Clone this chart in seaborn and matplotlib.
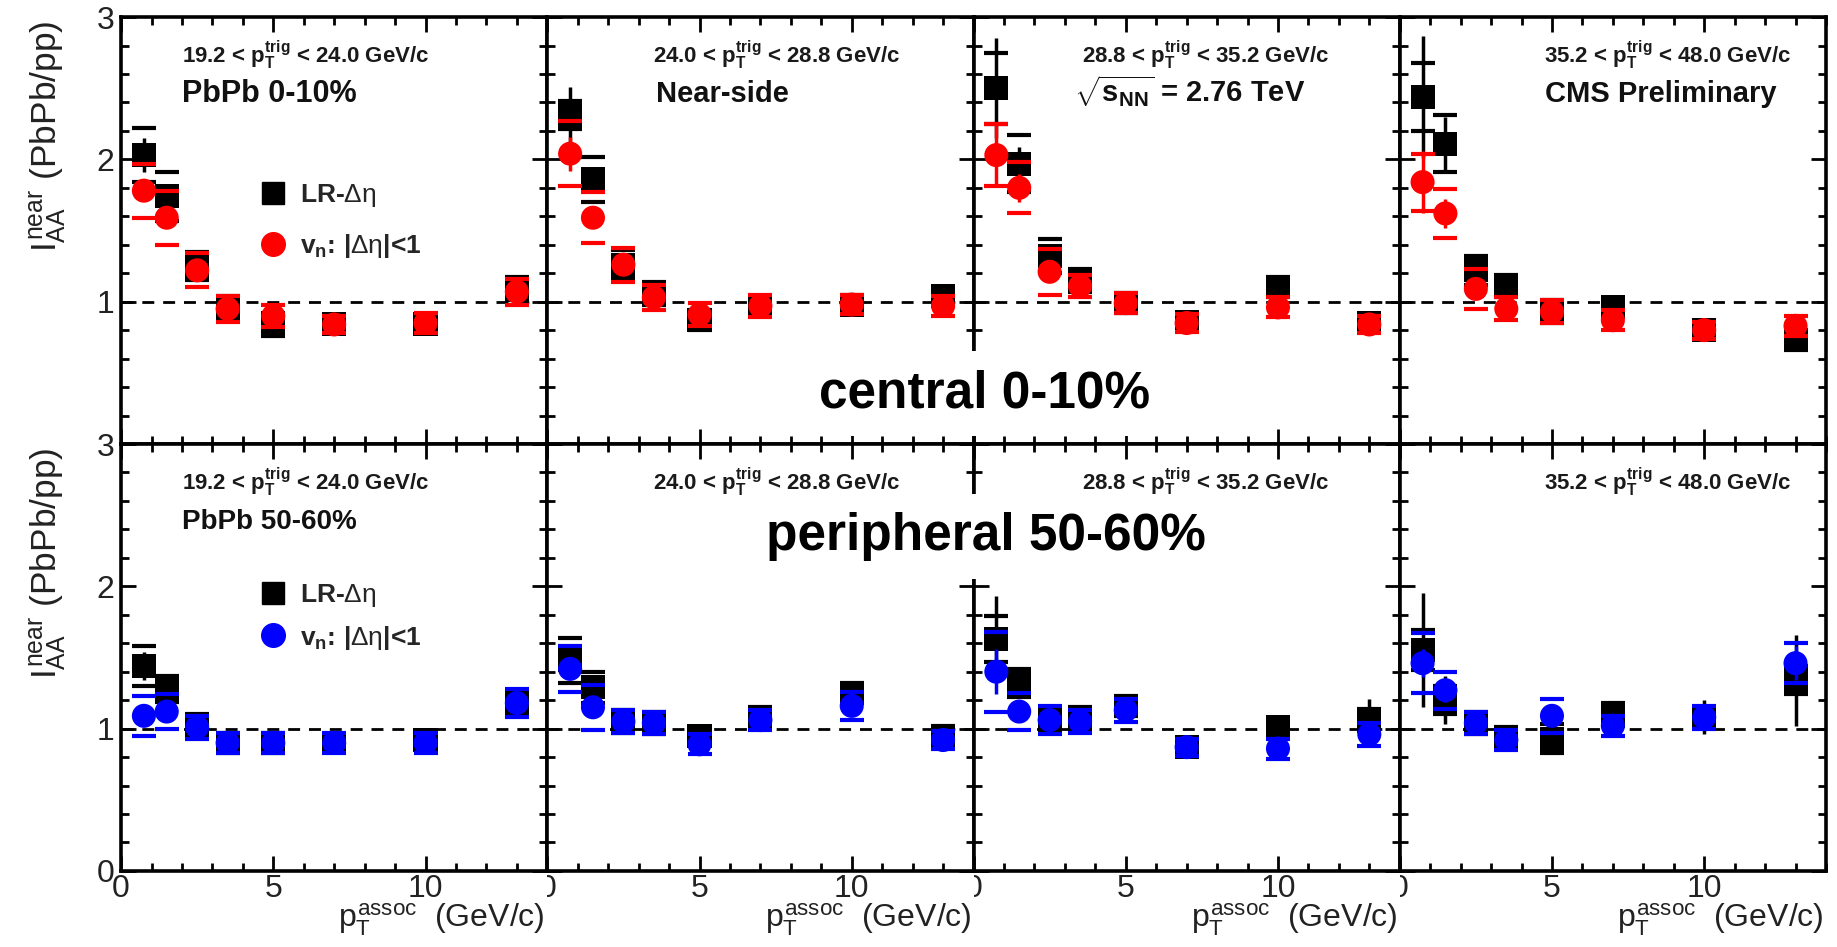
import numpy as np
import seaborn as sns
import matplotlib.pyplot as plt
from matplotlib.lines import Line2D
from matplotlib.ticker import MultipleLocator, FixedLocator
from matplotlib.transforms import Bbox, TransformedBbox

# associated pT bin centres (GeV/c), same for every panel
pt_assoc = [0.75, 1.5, 2.5, 3.5, 5.0, 7.0, 10.0, 13.0]

# trigger pT bin edges for the four columns
trig_lo = ["19.2", "24.0", "28.8", "35.2"]
trig_hi = ["24.0", "28.8", "35.2", "48.0"]

# central 0-10%, LR-deta (black squares)
cen_lr = [[2.03, 1.74, 1.25, 0.96, 0.84, 0.84, 0.84, 1.09],
          [2.31, 1.86, 1.26, 1.06, 0.87, 0.97, 0.98, 1.04],
          [2.50, 1.97, 1.32, 1.15, 0.99, 0.86, 1.10, 0.85],
          [2.44, 2.11, 1.22, 1.11, 0.93, 0.96, 0.80, 0.73]]
cen_lr_stat = [[0.12, 0.05, 0.04, 0.03, 0.03, 0.03, 0.03, 0.04],
               [0.20, 0.08, 0.04, 0.03, 0.03, 0.03, 0.03, 0.04],
               [0.35, 0.12, 0.05, 0.04, 0.04, 0.04, 0.05, 0.04],
               [0.43, 0.19, 0.06, 0.05, 0.05, 0.05, 0.05, 0.07]]
cen_lr_syst = [[0.19, 0.17, 0.10, 0.08, 0.08, 0.06, 0.06, 0.08],
               [0.10, 0.16, 0.10, 0.08, 0.07, 0.07, 0.07, 0.06],
               [0.25, 0.20, 0.12, 0.08, 0.07, 0.06, 0.07, 0.06],
               [0.24, 0.20, 0.10, 0.08, 0.08, 0.06, 0.06, 0.07]]

# central 0-10%, vn subtracted |deta|<1 (red circles)
cen_vn = [[1.78, 1.59, 1.22, 0.95, 0.90, 0.84, 0.85, 1.07],
          [2.04, 1.59, 1.26, 1.03, 0.91, 0.97, 0.98, 0.97],
          [2.03, 1.80, 1.21, 1.11, 0.99, 0.85, 0.96, 0.84],
          [1.84, 1.62, 1.09, 0.95, 0.93, 0.87, 0.80, 0.83]]
cen_vn_stat = [[0.05, 0.04, 0.03, 0.03, 0.03, 0.03, 0.03, 0.04],
               [0.12, 0.05, 0.03, 0.03, 0.03, 0.03, 0.03, 0.04],
               [0.22, 0.10, 0.04, 0.04, 0.04, 0.04, 0.04, 0.04],
               [0.22, 0.10, 0.05, 0.05, 0.05, 0.04, 0.04, 0.05]]
cen_vn_syst = [[0.19, 0.19, 0.12, 0.09, 0.08, 0.06, 0.07, 0.09],
               [0.23, 0.18, 0.12, 0.09, 0.08, 0.08, 0.07, 0.07],
               [0.22, 0.18, 0.16, 0.08, 0.07, 0.06, 0.07, 0.06],
               [0.20, 0.17, 0.14, 0.08, 0.08, 0.07, 0.06, 0.07]]

# peripheral 50-60%, LR-deta (black squares)
per_lr = [[1.44, 1.28, 1.02, 0.90, 0.90, 0.90, 0.92, 1.19],
          [1.48, 1.29, 1.05, 1.04, 0.95, 1.08, 1.25, 0.95],
          [1.63, 1.32, 1.06, 1.07, 1.16, 0.87, 1.01, 1.06],
          [1.55, 1.20, 1.04, 0.94, 0.93, 1.10, 1.08, 1.34]]
per_lr_stat = [[0.10, 0.05, 0.04, 0.03, 0.03, 0.03, 0.03, 0.05],
               [0.10, 0.05, 0.04, 0.04, 0.04, 0.04, 0.04, 0.04],
               [0.30, 0.08, 0.04, 0.04, 0.04, 0.04, 0.05, 0.15],
               [0.40, 0.17, 0.05, 0.05, 0.05, 0.06, 0.12, 0.32]]
per_lr_syst = [[0.14, 0.09, 0.08, 0.07, 0.07, 0.06, 0.06, 0.08],
               [0.16, 0.11, 0.08, 0.08, 0.06, 0.07, 0.07, 0.07],
               [0.16, 0.10, 0.08, 0.08, 0.07, 0.06, 0.06, 0.08],
               [0.14, 0.10, 0.08, 0.07, 0.10, 0.08, 0.07, 0.10]]

# peripheral 50-60%, vn subtracted |deta|<1 (blue circles)
per_vn = [[1.09, 1.12, 1.01, 0.90, 0.90, 0.90, 0.90, 1.18],
          [1.42, 1.15, 1.05, 1.04, 0.89, 1.06, 1.16, 0.92],
          [1.40, 1.12, 1.06, 1.05, 1.13, 0.87, 0.86, 0.96],
          [1.46, 1.27, 1.04, 0.92, 1.09, 1.02, 1.08, 1.46]]
per_vn_stat = [[0.04, 0.04, 0.03, 0.03, 0.03, 0.03, 0.03, 0.04],
               [0.07, 0.04, 0.04, 0.04, 0.04, 0.04, 0.04, 0.04],
               [0.16, 0.06, 0.04, 0.04, 0.04, 0.04, 0.04, 0.04],
               [0.10, 0.08, 0.05, 0.05, 0.05, 0.05, 0.05, 0.12]]
per_vn_syst = [[0.14, 0.12, 0.08, 0.07, 0.07, 0.07, 0.07, 0.10],
               [0.16, 0.16, 0.08, 0.08, 0.07, 0.07, 0.10, 0.06],
               [0.28, 0.13, 0.10, 0.08, 0.08, 0.06, 0.07, 0.08],
               [0.21, 0.13, 0.08, 0.07, 0.12, 0.07, 0.08, 0.14]]

top_notes = ["PbPb 0-10%", "Near-side",
             r"$\sqrt{\mathbf{s}_{\mathbf{NN}}}$ = 2.76 TeV", "CMS Preliminary"]
bottom_notes = ["PbPb 50-60%", "", "", ""]
trig_x = [0.143, 0.249, 0.254, 0.338]
note_x = [0.143, 0.254, 0.235, 0.340]

sns.set_theme(style="ticks")
plt.rcParams["font.family"] = ["Liberation Sans", "DejaVu Sans"]
plt.rcParams["mathtext.fontset"] = "custom"
plt.rcParams["mathtext.rm"] = "Liberation Sans"
plt.rcParams["mathtext.it"] = "Liberation Sans"
plt.rcParams["mathtext.bf"] = "Liberation Sans:bold"


def draw_series(ax, y, stat, syst, color, marker, z):
    # systematic brackets, statistical bars, then the markers
    ax.errorbar(pt_assoc, y, yerr=syst, fmt="none", ecolor=color, elinewidth=0,
                capsize=8.5, capthick=3, zorder=z)
    ax.errorbar(pt_assoc, y, yerr=stat, fmt="none", ecolor=color, elinewidth=2.5,
                capsize=0, zorder=z)
    sns.scatterplot(x=pt_assoc, y=y, ax=ax, marker=marker, color=color, s=300,
                    edgecolor="none", legend=False, zorder=z + 0.5)


fig = plt.figure(figsize=(18.37, 9.47), dpi=100)
axes = fig.subplots(2, 4, sharex=True, sharey=True)
fig.subplots_adjust(left=0.0659, right=0.9940, top=0.9820, bottom=0.0803,
                    wspace=0, hspace=0)

rows = [(cen_lr, cen_lr_stat, cen_lr_syst, cen_vn, cen_vn_stat, cen_vn_syst, "#ff0000", top_notes),
        (per_lr, per_lr_stat, per_lr_syst, per_vn, per_vn_stat, per_vn_syst, "#0000ff", bottom_notes)]

for r, (lr, lr_st, lr_sy, vn, vn_st, vn_sy, vcol, notes) in enumerate(rows):
    for c in range(4):
        ax = axes[r, c]
        ax.set_facecolor("white")
        ax.axhline(1, color="black", lw=2, dashes=(4.3, 3.2), zorder=1)
        draw_series(ax, lr[c], lr_st[c], lr_sy[c], "black", "s", 2)
        draw_series(ax, vn[c], vn_st[c], vn_sy[c], vcol, "o", 3)

        ax.text(trig_x[c], 0.891,
                trig_lo[c] + r" < $\mathbf{p}_{\mathbf{T}}^{\mathbf{trig}}$ < " + trig_hi[c] + " GeV/c",
                transform=ax.transAxes, fontsize=16, fontweight="bold", color="#1a1a1a",
                ha="left", va="baseline")
        if notes[c]:
            ax.text(note_x[c], 0.80, notes[c], transform=ax.transAxes,
                    fontsize=22 if c == 0 and r == 0 else (20 if r == 1 else 21),
                    fontweight="bold", color="#111111", ha="left", va="baseline")

        ax.set_xlim(0, 14)
        ax.set_ylim(0, 3)
        ax.xaxis.set_major_locator(FixedLocator([0, 5, 10]))
        ax.xaxis.set_minor_locator(MultipleLocator(1))
        ax.yaxis.set_major_locator(FixedLocator([0, 1, 2, 3]))
        ax.yaxis.set_minor_locator(MultipleLocator(0.2))
        ax.tick_params(which="both", direction="in", top=True, right=True,
                       width=2, color="black", labelsize=23, labelcolor="#222222")
        ax.tick_params(which="major", length=11)
        ax.tick_params(which="minor", length=6)
        ax.tick_params(axis="x", pad=2)
        ax.tick_params(axis="y", pad=5)
        for sp in ax.spines.values():
            sp.set_linewidth(2.6)
            sp.set_color("black")
        ax.set_xlabel("")
        ax.set_ylabel("")

# legends in the first column
for r, vcol in [(0, "#ff0000"), (1, "#0000ff")]:
    handles = [Line2D([], [], ls="none", marker="s", color="black", markersize=16),
               Line2D([], [], ls="none", marker="o", color=vcol, markersize=17)]
    labels = [r"LR-$\Delta\eta$", r"$\mathbf{v_n}$: |$\Delta\eta$|<1"]
    axes[r, 0].legend(handles, labels, loc="center left",
                      bbox_to_anchor=(0.295, 0.522 if r == 0 else 0.595),
                      frameon=False, prop={"weight": "bold", "size": 19},
                      handlelength=1.0, handletextpad=0.5, borderpad=0,
                      labelspacing=0.85 if r == 0 else 0.55)

# axis titles
for r in range(2):
    ax = axes[r, 0]
    ax.set_ylabel(r"$I_{AA}^{near}$ (PbPb/pp)", fontsize=25.5, color="#222222")
    ax.yaxis.set_label_coords(-0.150, 0.993)
    ax.yaxis.label.set_ha("right")
    ax.yaxis.label.set_va("baseline")
for c in range(4):
    ax = axes[1, c]
    ax.set_xlabel(r"$p_{T}^{assoc}$  (GeV/c)", fontsize=23, color="#222222")
    ax.xaxis.set_label_coords(0.995, -0.133)
    ax.xaxis.label.set_ha("right")
    ax.xaxis.label.set_va("baseline")

# the top row does not show its 0 label, the bottom row's 3 sits there
axes[0, 0].yaxis.get_major_ticks()[0].label1.set_visible(False)

# x "0" labels of later columns are cut by the neighbouring pad
for ax in axes[1, 1:]:
    clip = TransformedBbox(Bbox([[0, -1], [1, 1]]), ax.transAxes)
    for tick in ax.xaxis.get_major_ticks():
        tick.label1.set_clip_box(clip)
        tick.label1.set_clip_on(True)

fig.text(984.5 / 1837, 1 - 407 / 947, "central 0-10%", ha="center", va="baseline",
         fontsize=37, fontweight="bold", color="black", zorder=10,
         bbox=dict(fc="white", ec="none", pad=13))
fig.text(986 / 1837, 1 - 550 / 947, "peripheral 50-60%", ha="center", va="baseline",
         fontsize=37, fontweight="bold", color="black", zorder=10,
         bbox=dict(fc="white", ec="none", pad=13))

fig.savefig("out.png", dpi=100, facecolor="white")
